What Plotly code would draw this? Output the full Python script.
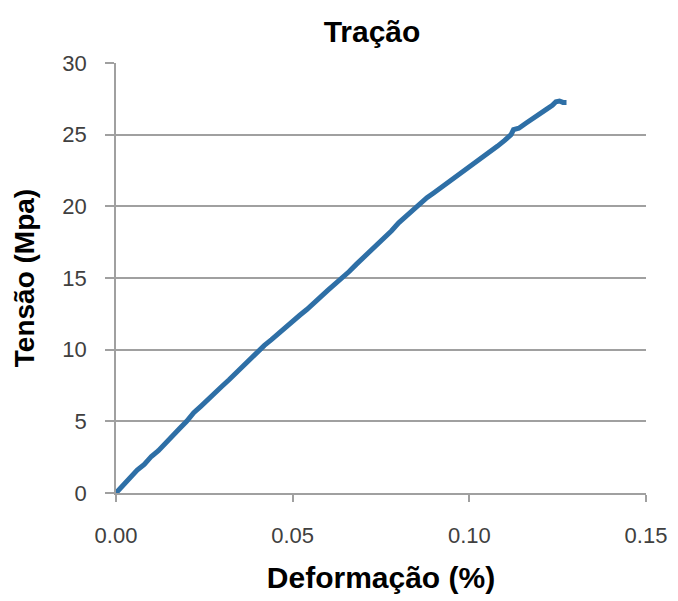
import plotly.graph_objects as go

# Strain (%) and stress (MPa)
deformacao = [0.000, 0.002, 0.004, 0.006, 0.008, 0.010, 0.012, 0.014, 0.016, 0.018,
              0.020, 0.022, 0.024, 0.026, 0.028, 0.030, 0.032, 0.034, 0.036, 0.038,
              0.040, 0.042, 0.044, 0.046, 0.048, 0.050, 0.052, 0.054, 0.056, 0.058,
              0.060, 0.062, 0.064, 0.066, 0.068, 0.070, 0.072, 0.074, 0.076, 0.078,
              0.080, 0.082, 0.084, 0.086, 0.088, 0.090, 0.092, 0.094, 0.096, 0.098,
              0.100, 0.102, 0.104, 0.106, 0.108, 0.110, 0.111, 0.1118, 0.1125, 0.114,
              0.116, 0.118, 0.120, 0.122, 0.1235, 0.1245, 0.1255, 0.1265, 0.1275]
tensao = [0.0, 0.55, 1.0, 1.6, 2.0, 2.55, 2.95, 3.5, 4.0, 4.5,
          5.0, 5.6, 6.05, 6.55, 7.0, 7.45, 7.9, 8.4, 8.8, 9.35,
          9.85, 10.3, 10.7, 11.15, 11.55, 12.0, 12.4, 12.8, 13.3, 13.7,
          14.15, 14.55, 15.0, 15.45, 15.95, 16.4, 16.9, 17.35, 17.85, 18.3,
          18.85, 19.3, 19.8, 20.25, 20.6, 20.95, 21.3, 21.65, 22.0, 22.4,
          22.75, 23.1, 23.5, 23.85, 24.2, 24.6, 24.8, 25.0, 25.35, 25.45,
          25.8, 26.1, 26.45, 26.8, 27.05, 27.3, 27.35, 27.25, 27.25]

x_ticks = [0.0, 0.05, 0.10, 0.15]
y_ticks = [0, 5, 10, 15, 20, 25, 30]

fig = go.Figure()
fig.add_trace(go.Scatter(
    x=deformacao, y=tensao, mode="lines",
    line=dict(color="#2E6FA6", width=5),
    showlegend=False, hoverinfo="skip",
))

grid = "#A0A0A0"
tick_font = dict(family="Liberation Sans, Arial, sans-serif", size=22, color="#404040")
title_font = dict(family="Liberation Sans, Arial, sans-serif", size=30, color="black")

fig.update_layout(
    width=678, height=601,
    margin=dict(l=116, r=32, t=63, b=108),
    paper_bgcolor="white", plot_bgcolor="white",
    title=dict(text="<b>Tração</b>", x=(372 - 116) / 530, xref="paper", xanchor="center",
               y=1 - 31 / 601, yref="container", yanchor="middle",
               font=dict(family="Liberation Sans, Arial, sans-serif", size=30, color="black")),
)
fig.update_xaxes(
    range=[0, 0.15], tickvals=x_ticks, tickformat=".2f",
    showgrid=False, zeroline=False,
    showline=True, linecolor=grid, linewidth=1.5,
    ticks="outside", ticklen=7, tickcolor=grid, tickwidth=1.5,
    tickfont=tick_font, ticklabelstandoff=15,
    title=dict(text="<b>Deformação (%)</b>", font=title_font, standoff=20),
)
fig.update_yaxes(
    range=[0, 30], tickvals=y_ticks,
    showgrid=True, gridcolor=grid, gridwidth=1.5, zeroline=False,
    showline=True, linecolor=grid, linewidth=1.5,
    ticks="outside", ticklen=9, tickcolor=grid, tickwidth=1.5,
    tickfont=tick_font, ticklabelstandoff=14,
    title=dict(text="<b>Tensão (Mpa)</b>", font=dict(family="Liberation Sans, Arial, sans-serif", size=28, color="black"), standoff=20),
)

fig.write_html("out.html")
